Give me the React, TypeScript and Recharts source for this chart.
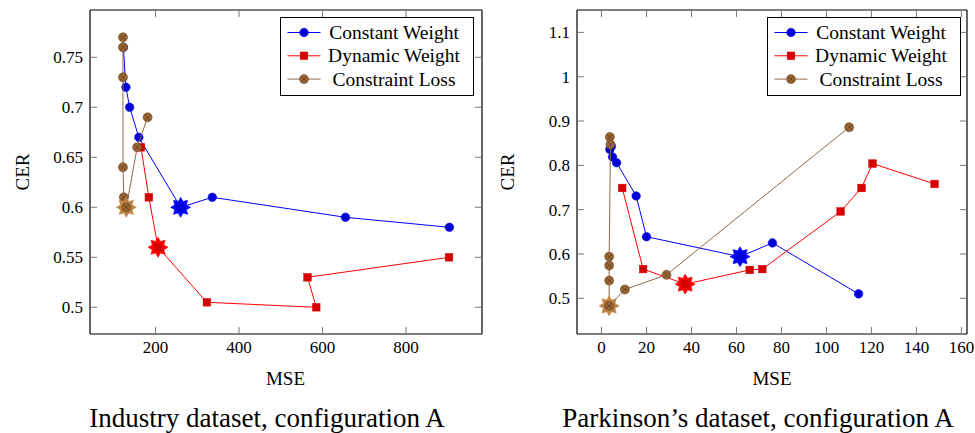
import React from "react";
import { ScatterChart, Scatter, XAxis, YAxis } from "recharts";

type Pt = { x: number; y: number };

// Industry dataset, configuration A
const industryConstant: Pt[] = [
  { x: 123, y: 0.76 },
  { x: 129, y: 0.72 },
  { x: 138, y: 0.7 },
  { x: 160, y: 0.67 },
  { x: 260, y: 0.6 },
  { x: 336, y: 0.61 },
  { x: 655, y: 0.59 },
  { x: 904, y: 0.58 },
];
const industryDynamic: Pt[] = [
  { x: 165, y: 0.66 },
  { x: 184, y: 0.61 },
  { x: 206, y: 0.56 },
  { x: 323, y: 0.505 },
  { x: 585, y: 0.5 },
  { x: 564, y: 0.53 },
  { x: 903, y: 0.55 },
];
const industryConstraint: Pt[] = [
  { x: 122, y: 0.77 },
  { x: 122, y: 0.76 },
  { x: 122, y: 0.73 },
  { x: 122, y: 0.64 },
  { x: 124, y: 0.61 },
  { x: 130, y: 0.6 },
  { x: 156, y: 0.66 },
  { x: 181, y: 0.69 },
];
// index of the best point of each series (drawn as a star)
const industryBest = [4, 2, 5];

// Parkinson's dataset, configuration A
const parkConstant: Pt[] = [
  { x: 4.4, y: 0.843 },
  { x: 3.7, y: 0.836 },
  { x: 4.9, y: 0.819 },
  { x: 6.7, y: 0.806 },
  { x: 15.4, y: 0.731 },
  { x: 20, y: 0.639 },
  { x: 61.6, y: 0.594 },
  { x: 76, y: 0.625 },
  { x: 114.3, y: 0.51 },
];
const parkDynamic: Pt[] = [
  { x: 9.2, y: 0.749 },
  { x: 18.5, y: 0.566 },
  { x: 37.2, y: 0.532 },
  { x: 65.9, y: 0.564 },
  { x: 71.5, y: 0.566 },
  { x: 106.3, y: 0.696 },
  { x: 115.6, y: 0.749 },
  { x: 120.5, y: 0.804 },
  { x: 148.1, y: 0.758 },
];
const parkConstraint: Pt[] = [
  { x: 3.7, y: 0.864 },
  { x: 4.0, y: 0.847 },
  { x: 3.4, y: 0.594 },
  { x: 3.4, y: 0.574 },
  { x: 3.4, y: 0.54 },
  { x: 3.4, y: 0.483 },
  { x: 10.4, y: 0.52 },
  { x: 28.9, y: 0.553 },
  { x: 110.1, y: 0.886 },
];
const parkBest = [6, 2, 5];

const seriesNames = ["Constant Weight", "Dynamic Weight", "Constraint Loss"];

const industryXTicks = [200, 400, 600, 800];
const industryYTicks = [0.5, 0.55, 0.6, 0.65, 0.7, 0.75];
const parkXTicks = [0, 20, 40, 60, 80, 100, 120, 140, 160];
const parkYTicks = [0.5, 0.6, 0.7, 0.8, 0.9, 1, 1.1];

const FONT = '"Liberation Serif", "DejaVu Serif", serif';

const styles = [
  { kind: "circle", line: "#0000ff", mark: "#0000d8", star: "#0000ff" },
  { kind: "square", line: "#ff0000", mark: "#d40000", star: "#ff0000" },
  { kind: "otimes", line: "#8c6a48", mark: "#996633", star: "#c08545" },
];

function Marker({ kind, cx, cy, color }: { kind: string; cx: number; cy: number; color: string }) {
  if (kind === "circle") return <circle cx={cx} cy={cy} r={4.3} fill={color} stroke={color} strokeWidth={0.5} />;
  if (kind === "square")
    return <rect x={cx - 3.8} y={cy - 3.8} width={7.6} height={7.6} fill={color} stroke={color} strokeWidth={0.5} />;
  const d = 3;
  return (
    <g>
      <circle cx={cx} cy={cy} r={4.5} fill={color} stroke="#6b4524" strokeWidth={0.6} />
      <line x1={cx - d} y1={cy - d} x2={cx + d} y2={cy + d} stroke="#5a3a1c" strokeWidth={0.7} />
      <line x1={cx - d} y1={cy + d} x2={cx + d} y2={cy - d} stroke="#5a3a1c" strokeWidth={0.7} />
    </g>
  );
}

function Star({ cx, cy, fill }: { cx: number; cy: number; fill: string }) {
  const pts: string[] = [];
  const n = 8;
  for (let i = 0; i < n * 2; i++) {
    const r = i % 2 === 0 ? 10 : 6.3;
    const a = (-90 + (i * 180) / n) * (Math.PI / 180);
    pts.push(`${cx + r * Math.cos(a)},${cy + r * Math.sin(a)}`);
  }
  return <polygon points={pts.join(" ")} fill={fill} stroke={fill} strokeWidth={0.6} />;
}

const fmt = (v: number) => String(+v.toFixed(2));

const XTick = (p: any) => (
  <text x={p.x} y={p.y} dy="0.75em" textAnchor="middle" fontFamily={FONT} fontSize={17} fill="#000">
    {fmt(p.payload.value)}
  </text>
);
const YTick = (p: any) => (
  <text x={p.x} y={p.y} dy="0.35em" textAnchor="end" fontFamily={FONT} fontSize={17} fill="#000">
    {fmt(p.payload.value)}
  </text>
);
const NoTick = () => <g />;

function Panel({
  left,
  width,
  xDomain,
  yDomain,
  xTicks,
  yTicks,
  series,
  best,
}: {
  left: number;
  width: number;
  xDomain: [number, number];
  yDomain: [number, number];
  xTicks: number[];
  yTicks: number[];
  series: Pt[][];
  best: number[];
}) {
  const axisLine = { stroke: "#000", strokeWidth: 1.2 };
  const tickLine = { stroke: "#777", strokeWidth: 1 };
  return (
    <div style={{ position: "absolute", left, top: 0 }}>
      <ScatterChart width={width} height={433} margin={{ top: 9, right: 7, bottom: 69, left: 0 }}>
        <XAxis
          xAxisId="b"
          type="number"
          dataKey="x"
          domain={xDomain}
          ticks={xTicks}
          allowDataOverflow
          interval={0}
          height={30}
          tickSize={-7}
          tickMargin={13}
          axisLine={axisLine}
          tickLine={tickLine}
          tick={<XTick />}
        />
        <XAxis
          xAxisId="t"
          orientation="top"
          type="number"
          dataKey="x"
          domain={xDomain}
          ticks={xTicks}
          allowDataOverflow
          interval={0}
          height={1}
          tickSize={-7}
          axisLine={axisLine}
          tickLine={tickLine}
          tick={<NoTick />}
        />
        <YAxis
          yAxisId="l"
          type="number"
          dataKey="y"
          domain={yDomain}
          ticks={yTicks}
          allowDataOverflow
          interval={0}
          width={90}
          tickSize={-7}
          tickMargin={14}
          axisLine={axisLine}
          tickLine={tickLine}
          tick={<YTick />}
        />
        <YAxis
          yAxisId="r"
          orientation="right"
          type="number"
          dataKey="y"
          domain={yDomain}
          ticks={yTicks}
          allowDataOverflow
          interval={0}
          width={1}
          tickSize={-7}
          axisLine={axisLine}
          tickLine={tickLine}
          tick={<NoTick />}
        />
        {/* binds the mirrored top/right axes so that the frame is drawn */}
        <Scatter xAxisId="t" yAxisId="r" data={series[0]} isAnimationActive={false} shape={NoTick} legendType="none" />
        {series.map((data, i) => (
          <Scatter
            key={seriesNames[i]}
            name={seriesNames[i]}
            xAxisId="b"
            yAxisId="l"
            data={data}
            isAnimationActive={false}
            line={{ stroke: styles[i].line, strokeWidth: 1 }}
            lineType="joint"
            shape={(p: any) => <Marker kind={styles[i].kind} cx={p.cx} cy={p.cy} color={styles[i].mark} />}
          />
        ))}
        {series.map((data, i) => (
          <Scatter
            key={"best-" + i}
            xAxisId="b"
            yAxisId="l"
            data={[data[best[i]]]}
            isAnimationActive={false}
            shape={(p: any) => (
              <g>
                <Star cx={p.cx} cy={p.cy} fill={styles[i].star} />
                <Marker kind={styles[i].kind} cx={p.cx} cy={p.cy} color={styles[i].mark} />
              </g>
            )}
          />
        ))}
      </ScatterChart>
    </div>
  );
}

function LegendBox({ left }: { left: number }) {
  const w = 193;
  const h = 78;
  return (
    <svg style={{ position: "absolute", left, top: 17 }} width={w + 2} height={h + 2}>
      <rect x={0.5} y={0.5} width={w} height={h} fill="#fff" stroke="#000" strokeWidth={1} />
      {seriesNames.map((name, i) => {
        const y = 15.5 + i * 23.3;
        return (
          <g key={name}>
            <line x1={7.5} x2={40.5} y1={y} y2={y} stroke={styles[i].line} strokeWidth={1} />
            <Marker kind={styles[i].kind} cx={24} cy={y} color={styles[i].mark} />
            <text
              x={114}
              y={y}
              textAnchor="middle"
              dominantBaseline="central"
              fontFamily={FONT}
              fontSize={19.5}
              fill="#000"
            >
              {name}
            </text>
          </g>
        );
      })}
    </svg>
  );
}

function TextAt({ x, y, size, rotate, children }: { x: number; y: number; size: number; rotate?: boolean; children: React.ReactNode }) {
  return (
    <div
      style={{
        position: "absolute",
        left: x,
        top: y,
        transform: `translate(-50%, -50%)${rotate ? " rotate(-90deg)" : ""}`,
        fontFamily: FONT,
        fontSize: size,
        whiteSpace: "nowrap",
        lineHeight: 1,
        color: "#000",
      }}
    >
      {children}
    </div>
  );
}

export default function App() {
  return (
    <div style={{ position: "relative", width: 975, height: 433, background: "#fff", overflow: "hidden" }}>
      <style>{"body{margin:0}"}</style>
      <Panel
        left={0}
        width={490}
        xDomain={[43, 982]}
        yDomain={[0.4733, 0.7973]}
        xTicks={industryXTicks}
        yTicks={industryYTicks}
        series={[industryConstant, industryDynamic, industryConstraint]}
        best={industryBest}
      />
      <Panel
        left={487}
        width={488}
        xDomain={[-10.9, 162.5]}
        yDomain={[0.4195, 1.1505]}
        xTicks={parkXTicks}
        yTicks={parkYTicks}
        series={[parkConstant, parkDynamic, parkConstraint]}
        best={parkBest}
      />
      <LegendBox left={280} />
      <LegendBox left={767} />
      <TextAt x={22} y={172} size={19} rotate>
        CER
      </TextAt>
      <TextAt x={507} y={172} size={19} rotate>
        CER
      </TextAt>
      <TextAt x={285.5} y={378} size={19}>
        MSE
      </TextAt>
      <TextAt x={772} y={378} size={19}>
        MSE
      </TextAt>
      <TextAt x={267} y={418} size={27}>
        Industry dataset, configuration A
      </TextAt>
      <TextAt x={758} y={418} size={27}>
        Parkinson’s dataset, configuration A
      </TextAt>
    </div>
  );
}
